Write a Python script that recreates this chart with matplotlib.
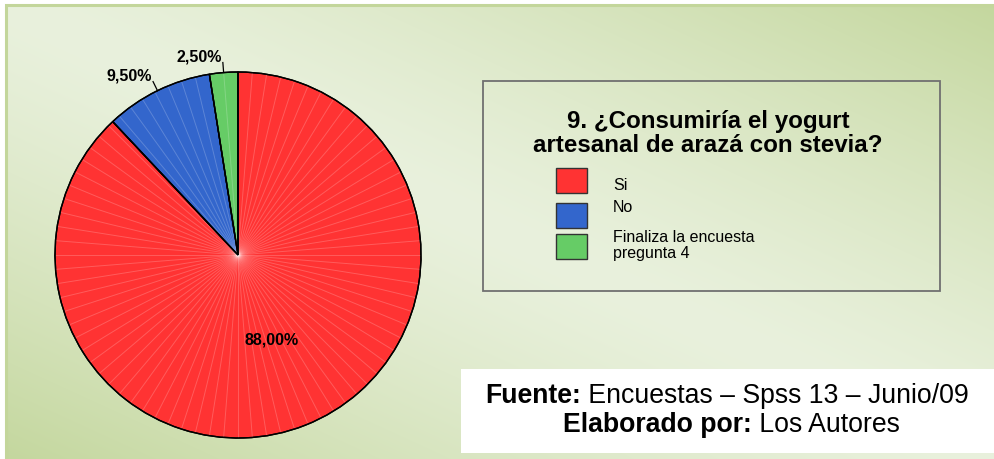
import numpy as np
import matplotlib
matplotlib.use("Agg")
import matplotlib.pyplot as plt
from matplotlib.patches import Rectangle, Wedge

# ---------------- data ----------------
categories = ["Si", "No", "Finaliza la encuesta\npregunta 4"]
percentages = [88.0, 9.5, 2.5]
pct_labels = ["88,00%", "9,50%", "2,50%"]
colors = ["#ff3333", "#3366cc", "#66cc66"]
title = "9. ¿Consumiría el yogurt\nartesanal de arazá con stevia?"
source_bold = ["Fuente:", "Elaborado por:"]
source_reg = [" Encuestas – Spss 13 – Junio/09", " Los Autores"]

plt.rcParams['font.family'] = ['Liberation Sans', 'DejaVu Sans']

W, H = 995, 459
fig = plt.figure(figsize=(W / 100, H / 100), dpi=100)
ax = fig.add_axes([0, 0, 1, 1])

def Y(y):  # image y (down) -> data y (up)
    return H - y

# ---------------- background gradient ----------------
x0, y0 = 6, 5
xs = np.linspace(0, 1, W - x0)
ys = np.linspace(0, 1, H - y0)
XX, YY = np.meshgrid(xs, ys)  # YY=0 at top
t = (XX + (1 - YY)) / 2.0
d = np.clip(np.abs(t - 0.5) * 2, 0, 1) ** 1.3
light = np.array([233, 241, 221]) / 255.0
green = np.array([196, 215, 158]) / 255.0
img = light[None, None, :] * (1 - d[..., None]) + green[None, None, :] * d[..., None]
ax.imshow(img, extent=(x0, W, Y(H), Y(y0)), origin='upper', aspect='auto', zorder=0)
ax.add_patch(Rectangle((x0, Y(H) - 2), W - x0 + 3, H - y0 + 2, fill=False,
                       edgecolor="#c3d69b", linewidth=2.2, zorder=1))

# ---------------- pie ----------------
cx, cy, R = 238, Y(255), 183
wedges, _ = ax.pie(percentages, colors=colors, startangle=90, counterclock=False,
                   center=(cx, cy), radius=R,
                   wedgeprops=dict(edgecolor="black", linewidth=1.0))
for w in wedges:
    w.set_zorder(3)

# faint radial facet lines
for ang in np.arange(0, 360, 4.5):
    a = np.deg2rad(ang)
    ax.plot([cx, cx + R * 0.995 * np.cos(a)], [cy, cy + R * 0.995 * np.sin(a)],
            color="white", alpha=0.2, linewidth=0.7, zorder=4)
# redraw wedge borders on top
for w in wedges:
    ax.add_patch(Wedge(w.center, w.r, w.theta1, w.theta2, fill=False,
                       edgecolor="black", linewidth=1.0, zorder=5))

# percentage labels
for i, w in enumerate(wedges):
    mid = np.deg2rad((w.theta1 + w.theta2) / 2)
    if percentages[i] > 50:
        ax.text(cx + 0.5 * R * np.cos(mid), cy + 0.5 * R * np.sin(mid), pct_labels[i],
                ha="center", va="center", fontsize=11.5, fontweight="bold", zorder=6)
    else:
        xa, ya = cx + R * np.cos(mid), cy + R * np.sin(mid)
        xb, yb = cx + 1.055 * R * np.cos(mid), cy + 1.055 * R * np.sin(mid)
        ax.plot([xa, xb], [ya, yb], color="black", linewidth=0.9, zorder=6)
        ax.text(xb - 1, yb - 2, pct_labels[i], ha="right", va="bottom",
                fontsize=11.5, fontweight="bold", zorder=6)

# ---------------- legend box ----------------
ax.add_patch(Rectangle((483, Y(291)), 457, 210, fill=False, edgecolor="#707070",
                       linewidth=1.3, zorder=6))
ax.text(708, Y(133.5), title, ha="center", va="center", fontsize=17.4,
        fontweight="bold", linespacing=1.1, zorder=7)
patch_tops = [168, 203, 234]
text_ys = [185, 208, 245.5]
for i, cat in enumerate(categories):
    ax.add_patch(Rectangle((556, Y(patch_tops[i] + 25)), 31, 25, facecolor=colors[i],
                           edgecolor="#333333", linewidth=1.0, zorder=7))
    ax.text(613, Y(text_ys[i]), cat, ha="left", va="center", fontsize=11.5,
            linespacing=1.05, zorder=7)

# ---------------- source box ----------------
ax.add_patch(Rectangle((461, Y(453)), W - 461 + 5, 84, facecolor="white",
                       edgecolor="none", zorder=6))
renderer = fig.canvas.get_renderer()
for i, (b, r) in enumerate(zip(source_bold, source_reg)):
    yy = Y([396, 425][i])
    t1 = ax.text(0, yy, b, ha="left", va="center", fontsize=19.2, fontweight="bold", zorder=7)
    t2 = ax.text(0, yy, r, ha="left", va="center", fontsize=19.2, zorder=7)
    w1 = t1.get_window_extent(renderer).width
    w2 = t2.get_window_extent(renderer).width
    left = [727, 731][i] - (w1 + w2) / 2
    t1.set_x(left)
    t2.set_x(left + w1)

ax.set_xlim(0, W)
ax.set_ylim(0, H)
ax.set_aspect("auto")
ax.axis("off")
fig.savefig("out.png", dpi=100, facecolor="white")
